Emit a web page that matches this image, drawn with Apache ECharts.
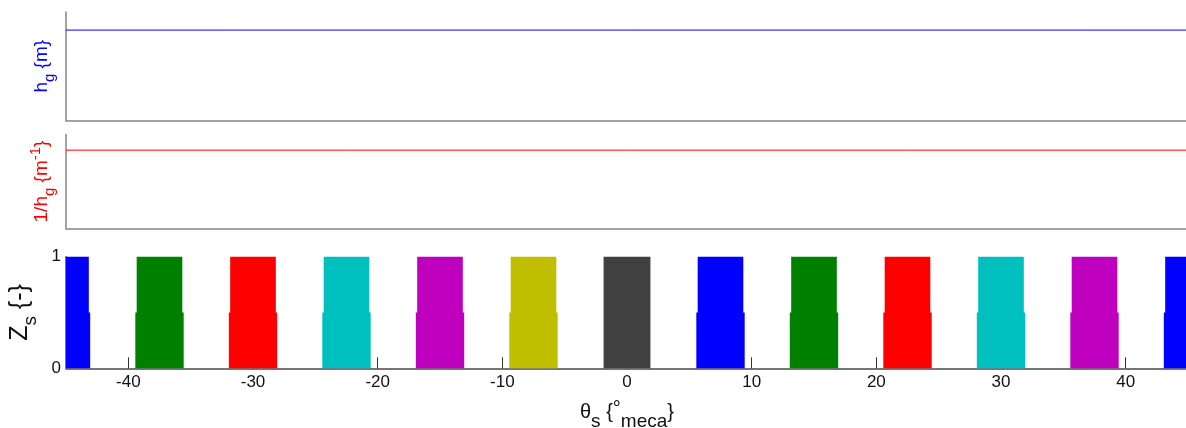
<!DOCTYPE html>
<html><head><meta charset="utf-8">
<script src="https://cdn.jsdelivr.net/npm/echarts@6/dist/echarts.min.js"></script>
<style>html,body{margin:0;padding:0;background:#fff}#c{width:1186px;height:428px}</style>
</head><body><div id="c"></div>
<script>
// ---- data ----
const thetaMin = -45;
const thetaMax = 45;
const thetaTicks = [-40, -30, -20, -10, 0, 10, 20, 30, 40];
const hgTheta = [-45, 45];
const hgValues = [0.001, 0.001];          // air gap h_g {m}
const invHgValues = [1000, 1000];         // 1/h_g {m^-1}
const slotCenters = [-45, -37.5, -30, -22.5, -15, -7.5, 0, 7.5, 15, 22.5, 30, 37.5, 45];
const slotLowerHalfWidth = [1.94, 1.94, 1.94, 1.94, 1.94, 1.94, 1.88, 1.94, 1.94, 1.94, 1.94, 1.94, 1.94];
const slotUpperHalfWidth = [1.83, 1.83, 1.83, 1.83, 1.83, 1.83, 1.88, 1.83, 1.83, 1.83, 1.83, 1.83, 1.83];
const zLevels = [0, 0.5, 1];
const slotPhase = [0, 1, 2, 3, 4, 5, 6, 0, 1, 2, 3, 4, 0];

// ---- styles ----
const phaseColors = ['#0000FF', '#008000', '#FF0000', '#00BFBF', '#BF00BF', '#BFBF00', '#404040'];
const FONT = 'Liberation Sans, Arial, sans-serif';

const chart = echarts.init(document.getElementById('c'), null, {renderer: 'canvas'});

const slotData = slotCenters.map((c, i) => [c, slotLowerHalfWidth[i], slotUpperHalfWidth[i], slotPhase[i]]);

function renderSlot(params, api) {
  const c = api.value(0), lw = api.value(1), uw = api.value(2), ph = api.value(3);
  const cs = params.coordSys;
  const pts = [
    [c - lw, zLevels[0]], [c + lw, zLevels[0]], [c + lw, zLevels[1]], [c + uw, zLevels[1]],
    [c + uw, zLevels[2]], [c - uw, zLevels[2]], [c - uw, zLevels[1]], [c - lw, zLevels[1]]
  ].map(p => api.coord(p));
  const clipped = echarts.graphic.clipPointsByRect(pts, {x: cs.x, y: cs.y, width: cs.width, height: cs.height});
  return {type: 'polygon', shape: {points: clipped}, style: {fill: phaseColors[ph], stroke: null}};
}

const grayLine = {color: '#858585', width: 1.5};
const gridBase = {left: 66, width: 1122, outerBoundsMode: 'none', containLabel: false};

const option = {
  animation: false,
  backgroundColor: '#fff',
  grid: [
    Object.assign({top: 12, height: 108.5}, gridBase),
    Object.assign({top: 134.5, height: 94}, gridBase),
    Object.assign({top: 256.7, height: 111.6}, gridBase)
  ],
  xAxis: [
    {gridIndex: 0, type: 'value', min: thetaMin, max: thetaMax, axisLine: {show: true, onZero: false, lineStyle: grayLine}, axisTick: {show: false}, axisLabel: {show: false}, splitLine: {show: false}},
    {gridIndex: 1, type: 'value', min: thetaMin, max: thetaMax, axisLine: {show: true, onZero: false, lineStyle: grayLine}, axisTick: {show: false}, axisLabel: {show: false}, splitLine: {show: false}},
    {gridIndex: 2, type: 'value', min: thetaMin, max: thetaMax,
     axisLine: {show: true, onZero: false, lineStyle: {color: '#4a4a4a', width: 1.5}},
     axisTick: {show: true, inside: true, length: 11, customValues: thetaTicks, lineStyle: {color: '#333', width: 1}},
     axisLabel: {show: true, customValues: thetaTicks, margin: 6, fontSize: 17, color: '#111', fontFamily: FONT},
     splitLine: {show: false},
     name: 'θ{s|s} {{sup|°}{s|meca}}',
     nameLocation: 'middle', nameGap: 16,
     nameTextStyle: {fontSize: 20, color: '#111', fontFamily: FONT, lineHeight: 40,
       rich: {s: {fontSize: 19, height: 20, lineHeight: 20, verticalAlign: 'bottom', fontFamily: FONT, color: '#111'},
              sup: {fontSize: 20, height: 34, lineHeight: 34, verticalAlign: 'top', fontFamily: FONT, color: '#111'}}}
    }
  ],
  yAxis: [
    {gridIndex: 0, type: 'value', min: 0, max: 0.0012, axisLine: {show: true, onZero: false, lineStyle: grayLine}, axisTick: {show: false}, axisLabel: {show: false}, splitLine: {show: false},
     name: 'h{s|g} {m}', nameLocation: 'middle', nameGap: 9,
     nameTextStyle: {fontSize: 19, color: '#0000FF', fontFamily: FONT, lineHeight: 30,
       rich: {s: {fontSize: 15, height: 14, lineHeight: 14, verticalAlign: 'bottom', color: '#0000FF', fontFamily: FONT}}}},
    {gridIndex: 1, type: 'value', min: 0, max: 1200, axisLine: {show: true, onZero: false, lineStyle: grayLine}, axisTick: {show: false}, axisLabel: {show: false}, splitLine: {show: false},
     name: '1/h{s|g} {m{sup|-1}}', nameLocation: 'middle', nameGap: 9,
     nameTextStyle: {fontSize: 19, color: '#FF0000', fontFamily: FONT, lineHeight: 30,
       rich: {s: {fontSize: 15, height: 14, lineHeight: 14, verticalAlign: 'bottom', color: '#FF0000', fontFamily: FONT},
              sup: {fontSize: 15, height: 18, lineHeight: 18, verticalAlign: 'top', color: '#FF0000', fontFamily: FONT}}}},
    {gridIndex: 2, type: 'value', min: 0, max: 1, interval: 1,
     axisLine: {show: true, onZero: false, lineStyle: {color: '#4a4a4a', width: 1.5}},
     axisTick: {show: false},
     axisLabel: {show: true, margin: 5, fontSize: 17, color: '#111', fontFamily: FONT},
     splitLine: {show: false},
     name: 'Z{s|s} {-}', nameLocation: 'middle', nameGap: 26,
     nameTextStyle: {fontSize: 25, color: '#111', fontFamily: FONT, lineHeight: 36,
       rich: {s: {fontSize: 19, height: 14, lineHeight: 14, verticalAlign: 'bottom', color: '#111', fontFamily: FONT}}}}
  ],
  series: [
    {type: 'line', xAxisIndex: 0, yAxisIndex: 0, data: hgTheta.map((t, i) => [t, hgValues[i]]), showSymbol: false, lineStyle: {color: '#0000FF', width: 1}},
    {type: 'line', xAxisIndex: 1, yAxisIndex: 1, data: hgTheta.map((t, i) => [t, invHgValues[i]]), showSymbol: false, lineStyle: {color: '#FF0000', width: 1}},
    {type: 'custom', xAxisIndex: 2, yAxisIndex: 2, data: slotData, renderItem: renderSlot, encode: {x: 0, y: -1}}
  ]
};
chart.setOption(option);
</script>
</body></html>
